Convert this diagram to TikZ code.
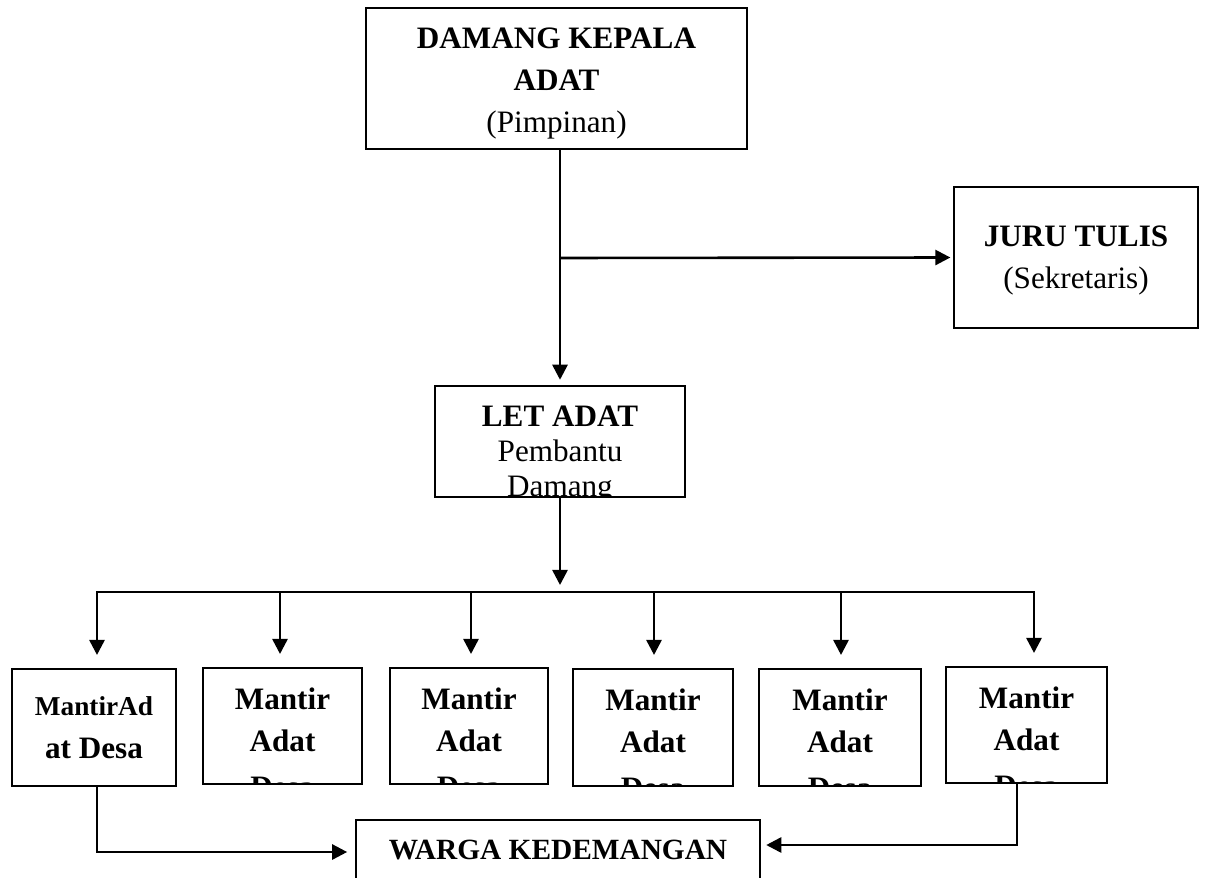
\documentclass[tikz,border=0pt]{standalone}
\usepackage{fontspec}
\setmainfont{Liberation Serif}
\usetikzlibrary{arrows.meta}
\newcommand{\pxu}{0.385pt}

\begin{document}
\begin{tikzpicture}[x=0.385pt, y=-0.385pt]

	\tikzstyle{orgbox}=[rectangle,
	draw=black,
	line width=0.8pt,
	inner sep=0pt
	]
	\tikzstyle{boxtext}=[anchor=north,
	align=center,
	draw=none,
	inner sep=0pt,
	minimum width=0pt,
	minimum height=0pt,
	font=\fontsize{12}{16.3}\selectfont
	]
	\tikzstyle{linetext}=[anchor=base,
	draw=none,
	inner sep=0pt,
	minimum width=0pt,
	minimum height=0pt
	]
	\tikzstyle{arr}=[line width=1pt, -{Triangle[length=5.8pt, width=5.8pt]}]
	\tikzstyle{link}=[line width=1pt]

	\useasboundingbox (0,0) rectangle (1207,878);

	\coordinate (pdamang) at (556.5, 78.5);
	\coordinate (pjuru) at (1076, 257.5);
	\coordinate (plet) at (560, 441.5);
	\coordinate (pm1) at (94, 727.5);
	\coordinate (pm2) at (282.5, 726);
	\coordinate (pm3) at (469, 726);
	\coordinate (pm4) at (653, 727.5);
	\coordinate (pm5) at (840, 727.5);
	\coordinate (pm6) at (1026.5, 725);
	\coordinate (pwarga) at (558, 870);

	\node[orgbox, minimum width=381*\pxu, minimum height=141*\pxu,
	path picture={\node[boxtext] at ([yshift=-18.4*\pxu]path picture bounding box.north)
		{\textbf{DAMANG KEPALA}\\\textbf{ADAT}\\(Pimpinan)};}] (damang) at (pdamang) {};
	\node[orgbox, minimum width=244*\pxu, minimum height=141*\pxu,
	path picture={\node[boxtext] at ([yshift=-37.4*\pxu]path picture bounding box.north)
		{\textbf{JURU TULIS}\\(Sekretaris)};}] (juru) at (pjuru) {};
	\node[orgbox, minimum width=250*\pxu, minimum height=111*\pxu,
	path picture={\node[boxtext, font=\fontsize{12}{13.5}\selectfont] at ([yshift=-18.4*\pxu]path picture bounding box.north)
		{\textbf{LET ADAT}\\Pembantu\\Damang};}] (let) at (plet) {};

	\node[orgbox, minimum width=164*\pxu, minimum height=117*\pxu,
	path picture={
		\node[linetext, font=\fontsize{10.5}{12}\selectfont\bfseries] at ([yshift=-46*\pxu]path picture bounding box.north) {MantirAd};
		\node[linetext, font=\fontsize{12}{14}\selectfont\bfseries] at ([yshift=-89*\pxu]path picture bounding box.north) {at Desa};}] (m1) at (pm1) {};
	\node[orgbox, minimum width=159*\pxu, minimum height=116*\pxu,
	path picture={\node[boxtext, font=\fontsize{12}{16.2}\selectfont\bfseries] at ([yshift=-18.7*\pxu]path picture bounding box.north)
		{Mantir\\Adat\\[1.5pt]Desa};}] (m2) at (pm2) {};
	\node[orgbox, minimum width=158*\pxu, minimum height=116*\pxu,
	path picture={\node[boxtext, font=\fontsize{12}{16.2}\selectfont\bfseries] at ([yshift=-18.7*\pxu]path picture bounding box.north)
		{Mantir\\Adat\\[1.5pt]Desa};}] (m3) at (pm3) {};
	\node[orgbox, minimum width=160*\pxu, minimum height=117*\pxu,
	path picture={\node[boxtext, font=\fontsize{12}{16.2}\selectfont\bfseries] at ([yshift=-18.7*\pxu]path picture bounding box.north)
		{Mantir\\Adat\\[1.5pt]Desa};}] (m4) at (pm4) {};
	\node[orgbox, minimum width=162*\pxu, minimum height=117*\pxu,
	path picture={\node[boxtext, font=\fontsize{12}{16.2}\selectfont\bfseries] at ([yshift=-18.7*\pxu]path picture bounding box.north)
		{Mantir\\Adat\\[1.5pt]Desa};}] (m5) at (pm5) {};
	\node[orgbox, minimum width=161*\pxu, minimum height=116*\pxu,
	path picture={\node[boxtext, font=\fontsize{12}{16.2}\selectfont\bfseries] at ([yshift=-18.7*\pxu]path picture bounding box.north)
		{Mantir\\Adat\\[1.5pt]Desa};}] (m6) at (pm6) {};

	\node[orgbox, minimum width=404*\pxu, minimum height=100*\pxu,
	path picture={\node[boxtext, font=\fontsize{11.3}{13}\selectfont\bfseries] at ([yshift=-19*\pxu]path picture bounding box.north)
		{WARGA KEDEMANGAN};}] (warga) at (pwarga) {};

	\coordinate (pjoint) at (560, 258);
	\coordinate (pbus) at (560, 592);
	\coordinate (b1) at (97, 592);
	\coordinate (b2) at (280, 592);
	\coordinate (b3) at (471, 592);
	\coordinate (b4) at (654, 592);
	\coordinate (b5) at (841, 592);
	\coordinate (b6) at (1034, 592);
	\coordinate (w1) at (97, 852);
	\coordinate (w6) at (1017, 845);

	\draw[arr, shorten >=2pt] (let.north |- damang.south) -- (let.north);
	\draw[arr, shorten >=1pt] (pjoint) -- (juru.west);
	\draw[arr, shorten >=2.7pt] (let.south) -- (pbus);

	\draw[link, {Triangle[length=5.8pt, width=5.8pt]}-{Triangle[length=5.8pt, width=5.8pt]},
	shorten <=5pt, shorten >=5pt] (b1 |- m1.north) -- (b1) -- (b6) -- (b6 |- m6.north);
	\draw[arr, shorten >=5pt] (b2) -- (b2 |- m2.north);
	\draw[arr, shorten >=5pt] (b3) -- (b3 |- m3.north);
	\draw[arr, shorten >=5pt] (b4) -- (b4 |- m4.north);
	\draw[arr, shorten >=5pt] (b5) -- (b5 |- m5.north);

	\draw[arr, shorten >=3pt] (w1 |- m1.south) -- (w1) -- (w1 -| warga.west);
	\draw[arr, shorten >=2pt] (w6 |- m6.south) -- (w6) -- (w6 -| warga.east);

\end{tikzpicture}
\end{document}
